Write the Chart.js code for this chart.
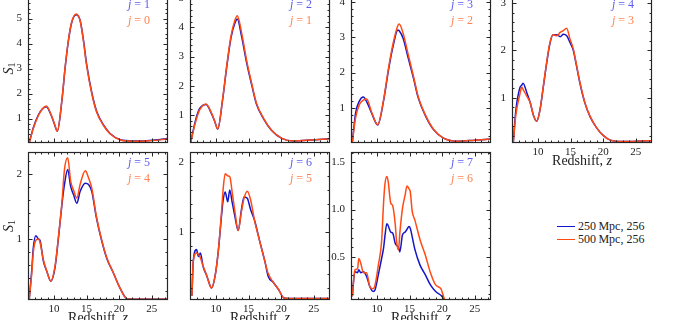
<!DOCTYPE html>
<html><head><meta charset="utf-8">
<script src="https://cdn.jsdelivr.net/npm/chart.js@4/dist/chart.umd.min.js"></script>
<style>
html,body{margin:0;padding:0;background:#fff;width:673px;height:320px;overflow:hidden;position:relative;}
canvas{position:absolute;}
#legend{position:absolute;left:557px;top:220px;font-family:"Liberation Serif",serif;font-size:12px;color:#222;}
.row{display:flex;align-items:center;height:13px;white-space:nowrap;}
.sw{width:18px;height:0;border-top:1.6px solid;margin-right:3px;}
</style></head><body>
<div id="legend">
 <div class="row"><span class="sw" style="border-color:#1515c8"></span>250&#8201;Mpc, 256</div>
 <div class="row"><span class="sw" style="border-color:#ff4a14"></span>500&#8201;Mpc, 256</div>
</div>
<script>
// ---- data ----
const xMajor = [10, 15, 20, 25];

const z1 = [6.2, 6.8, 7.6, 8.2, 8.8, 9.6, 10.1, 10.5, 11.2, 11.7, 12.2, 12.7, 13.4, 14.0, 14.5, 15.0, 15.8, 16.55, 17.6, 18.6, 20.1, 22.2, 24.7, 27.5];
const o1 = [0.03, 0.59, 1.12, 1.38, 1.50, 1.12, 0.76, 0.49, 1.72, 3.05, 4.12, 4.85, 5.18, 4.92, 4.12, 3.12, 1.99, 1.25, 0.72, 0.39, 0.15, 0.09, 0.11, 0.18];
const b1 = [0.03, 0.62, 1.15, 1.38, 1.47, 1.10, 0.74, 0.49, 1.70, 3.02, 4.10, 4.83, 5.15, 4.93, 4.17, 3.18, 2.03, 1.28, 0.74, 0.40, 0.16, 0.10, 0.12, 0.20];

const z2 = [6.1, 6.77, 7.44, 8.0, 8.46, 9.3, 9.8, 10.26, 11.0, 11.63, 12.3, 12.9, 13.27, 13.9, 14.7, 15.5, 16.2, 17.3, 18.5, 20.1, 21.9, 24.5, 27.3];
const o2 = [0.04, 0.68, 1.15, 1.32, 1.37, 1.06, 0.78, 0.51, 1.52, 2.67, 3.71, 4.25, 4.40, 3.85, 2.86, 2.05, 1.40, 0.88, 0.48, 0.19, 0.10, 0.13, 0.18];
const b2 = [0.04, 0.74, 1.20, 1.33, 1.35, 1.04, 0.77, 0.51, 1.50, 2.62, 3.65, 4.15, 4.29, 3.72, 2.78, 2.00, 1.37, 0.86, 0.47, 0.19, 0.10, 0.13, 0.18];

const z3 = [6.2, 6.7, 7.3, 7.9, 8.4, 9.2, 10.1, 11.0, 11.8, 12.5, 13.2, 13.4, 14.0, 14.8, 15.6, 16.3, 17.4, 18.7, 20.2, 22.5, 25.0, 27.4];
const o3 = [0.02, 0.72, 1.10, 1.22, 1.25, 0.86, 0.53, 1.23, 2.17, 2.85, 3.33, 3.37, 3.11, 2.50, 1.89, 1.33, 0.81, 0.39, 0.15, 0.06, 0.09, 0.12];
const b3 = [0.02, 0.85, 1.20, 1.31, 1.18, 0.84, 0.52, 1.20, 2.12, 2.78, 3.20, 3.18, 2.97, 2.40, 1.84, 1.30, 0.79, 0.38, 0.15, 0.06, 0.09, 0.12];

const z4 = [6.2, 6.6, 7.2, 7.5, 7.7, 8.3, 8.8, 9.3, 9.8, 10.3, 10.8, 11.3, 11.8, 12.3, 12.9, 13.4, 13.9, 14.4, 14.9, 15.4, 15.9, 16.4, 17.2, 18.0, 19.0, 20.0, 21.1, 23.1, 25.7, 27.4];
const o4 = [0.07, 0.65, 1.07, 1.23, 1.18, 1.03, 0.90, 0.63, 0.51, 0.75, 1.24, 1.73, 2.15, 2.33, 2.31, 2.38, 2.42, 2.47, 2.24, 2.04, 1.70, 1.35, 0.90, 0.61, 0.37, 0.21, 0.11, 0.08, 0.09, 0.10];
const b4 = [0.07, 0.75, 1.21, 1.27, 1.31, 1.10, 0.90, 0.63, 0.51, 0.75, 1.22, 1.71, 2.13, 2.33, 2.33, 2.29, 2.34, 2.31, 2.17, 2.01, 1.68, 1.33, 0.89, 0.60, 0.37, 0.21, 0.11, 0.08, 0.09, 0.10];

const z5 = [6.2, 6.6, 6.8, 7.2, 7.6, 7.84, 8.36, 8.9, 9.5, 10.15, 10.66, 11.2, 11.6, 12.1, 12.55, 13.0, 13.5, 14.0, 14.8, 15.3, 15.8, 16.5, 17.3, 18.1, 19.1, 20.1, 21.2, 23.2, 27.5];
const o5 = [0.08, 0.50, 0.78, 0.98, 1.00, 0.95, 0.68, 0.50, 0.35, 0.58, 1.02, 1.55, 2.07, 2.25, 1.89, 1.75, 1.63, 1.84, 2.05, 1.94, 1.78, 1.35, 0.99, 0.71, 0.48, 0.25, 0.08, 0.07, 0.07];
const b5 = [0.08, 0.55, 0.85, 1.05, 1.00, 0.98, 0.66, 0.50, 0.35, 0.56, 1.00, 1.52, 1.84, 2.07, 1.81, 1.68, 1.55, 1.73, 1.86, 1.84, 1.73, 1.33, 0.98, 0.70, 0.48, 0.25, 0.08, 0.07, 0.07];

const z6 = [6.3, 6.5, 7.0, 7.3, 7.6, 8.0, 8.6, 9.1, 9.3, 9.85, 10.35, 10.9, 11.1, 11.4, 11.8, 12.1, 12.5, 12.9, 13.4, 13.9, 14.3, 14.8, 15.3, 15.9, 16.7, 17.5, 18.0, 18.8, 19.6, 20.4, 21.9, 27.3];
const o6 = [0.09, 0.58, 0.70, 0.68, 0.63, 0.52, 0.37, 0.23, 0.20, 0.37, 0.73, 1.36, 1.62, 1.83, 1.80, 1.79, 1.55, 1.29, 1.02, 1.29, 1.48, 1.58, 1.46, 1.17, 0.87, 0.58, 0.41, 0.28, 0.18, 0.06, 0.05, 0.05];
const b6 = [0.09, 0.58, 0.75, 0.65, 0.70, 0.51, 0.37, 0.23, 0.20, 0.37, 0.73, 1.29, 1.46, 1.57, 1.43, 1.60, 1.41, 1.22, 1.02, 1.32, 1.50, 1.48, 1.32, 1.17, 0.87, 0.58, 0.37, 0.28, 0.18, 0.06, 0.05, 0.05];

const z7 = [6.2, 6.6, 7.0, 7.2, 7.5, 7.9, 8.4, 8.9, 9.4, 9.7, 10.2, 10.7, 11.0, 11.2, 11.5, 11.7, 12.1, 12.4, 12.8, 13.0, 13.3, 13.5, 13.9, 14.3, 14.6, 14.9, 15.1, 15.4, 15.8, 16.6, 17.4, 18.2, 19.0, 19.8, 20.5, 27.5];
const b7 = [0.08, 0.34, 0.33, 0.36, 0.33, 0.34, 0.29, 0.18, 0.13, 0.15, 0.31, 0.48, 0.59, 0.71, 0.85, 0.83, 0.76, 0.75, 0.64, 0.62, 0.60, 0.55, 0.73, 0.76, 0.79, 0.82, 0.80, 0.71, 0.58, 0.41, 0.31, 0.20, 0.13, 0.09, 0.04, 0.04];
const o7 = [0.08, 0.36, 0.37, 0.48, 0.43, 0.33, 0.33, 0.18, 0.16, 0.20, 0.41, 0.66, 1.07, 1.26, 1.35, 1.30, 1.07, 1.04, 0.84, 0.66, 0.57, 0.75, 1.01, 1.15, 1.25, 1.22, 1.19, 0.98, 0.89, 0.68, 0.52, 0.33, 0.20, 0.16, 0.04, 0.04];

const yTicks1 = [1, 2, 3, 4, 5];
const yTicks2 = [1, 2, 3, 4, 5];
const yTicks3 = [1, 2, 3, 4];
const yTicks4 = [1, 2, 3];
const yTicks5 = [1, 2];
const yTicks6 = [1, 2];
const yTicks7 = [0.5, 1.0, 1.5];

const legendLabels = ['250 Mpc, 256', '500 Mpc, 256'];

// ---- styling / layout ----
const BLUE = '#1515c8', ORANGE = '#ff4a14';
const BLUE_T = '#5c5cf0', ORANGE_T = '#ff8352';
const colLeft = [28, 190, 351, 512];
const rowTop = [-6, 152];
const rowH = [149, 148];
const SERIF = '"Liberation Serif", "DejaVu Serif", serif';

const panels = [
  {z:z1, b:b1, o:o1, jb:1, jo:0, ymin:0.02, ymax:5.98, yt:yTicks1, minor:0.2, col:0, row:0, xl:false},
  {z:z2, b:b2, o:o2, jb:2, jo:1, ymin:0.03, ymax:5.15, yt:yTicks2, minor:0.2, col:1, row:0, xl:false},
  {z:z3, b:b3, o:o3, jb:3, jo:2, ymin:0.01, ymax:4.22, yt:yTicks3, minor:0.2, col:2, row:0, xl:false},
  {z:z4, b:b4, o:o4, jb:4, jo:3, ymin:0.05, ymax:3.19, yt:yTicks4, minor:0.2, col:3, row:0, xl:true},
  {z:z5, b:b5, o:o5, jb:5, jo:4, ymin:0.06, ymax:2.34, yt:yTicks5, minor:0.2, col:0, row:1, xl:true},
  {z:z6, b:b6, o:o6, jb:6, jo:5, ymin:0.03, ymax:2.14, yt:yTicks6, minor:0.2, col:1, row:1, xl:true},
  {z:z7, b:b7, o:o7, jb:7, jo:6, ymin:0.04, ymax:1.61, yt:yTicks7, minor:0.1, col:2, row:1, xl:true, fmt:1}
];

const frameTicks = {
  id: 'frameTicks',
  afterDraw(chart, args, opts) {
    const p = opts.p;
    const {ctx, chartArea: a} = chart;
    const x = chart.scales.x, y = chart.scales.y;
    ctx.save();
    ctx.strokeStyle = '#262626';
    ctx.lineWidth = 1;
    const L = Math.round(a.left) + 0.5, R = Math.round(a.right) - 0.5;
    const T = Math.round(a.top) + 0.5, B = Math.round(a.bottom) - 0.5;
    ctx.beginPath();
    for (let v = 7; v <= 27; v++) {
      const px = Math.round(x.getPixelForValue(v)) + 0.5;
      const len = xMajor.includes(v) ? 4 : 2;
      ctx.moveTo(px, B); ctx.lineTo(px, B - len);
      ctx.moveTo(px, T); ctx.lineTo(px, T + len);
    }
    const st = p.minor;
    for (let k = Math.ceil(p.ymin / st - 1e-9); k * st <= p.ymax + 1e-9; k++) {
      const v = k * st;
      const py = Math.round(y.getPixelForValue(v)) + 0.5;
      const len = p.yt.some(m => Math.abs(m - v) < 1e-6) ? 4 : 2;
      ctx.moveTo(L, py); ctx.lineTo(L + len, py);
      ctx.moveTo(R, py); ctx.lineTo(R - len, py);
    }
    ctx.stroke();
    ctx.lineWidth = 1.2;
    ctx.strokeRect(L, T, R - L, B - T);

    // j annotations
    const drawJ = (txt, color, cy) => {
      ctx.fillStyle = color;
      ctx.textBaseline = 'middle';
      ctx.font = '12px ' + SERIF;
      const rest = ' = ' + txt;
      const wr = ctx.measureText(rest).width;
      ctx.font = 'italic 12px ' + SERIF;
      const wj = ctx.measureText('j').width;
      const xr = a.right - 18;
      ctx.textAlign = 'left';
      ctx.fillText('j', xr - wr - wj, cy);
      ctx.font = '12px ' + SERIF;
      ctx.fillText(rest, xr - wr, cy);
    };
    drawJ(String(p.jb), BLUE_T, a.top + 11);
    drawJ(String(p.jo), ORANGE_T, a.top + 27);

    ctx.fillStyle = '#222';
    // y-axis title
    if (p.col === 0) {
      ctx.save();
      ctx.translate(9, (a.top + a.bottom) / 2);
      ctx.rotate(-Math.PI / 2);
      ctx.textBaseline = 'middle';
      ctx.textAlign = 'left';
      ctx.font = 'italic 14px ' + SERIF;
      const ws = ctx.measureText('S').width;
      ctx.font = '10px ' + SERIF;
      const w1 = ctx.measureText('1').width;
      const x0 = -(ws + w1) / 2;
      ctx.font = 'italic 14px ' + SERIF;
      ctx.fillText('S', x0, 0);
      ctx.font = '10px ' + SERIF;
      ctx.fillText('1', x0 + ws, 3);
      ctx.restore();
    }
    // x-axis title
    if (p.xl) {
      ctx.textBaseline = 'middle';
      ctx.textAlign = 'left';
      ctx.font = '14px ' + SERIF;
      const t1 = 'Redshift, ';
      const w1 = ctx.measureText(t1).width;
      ctx.font = 'italic 14px ' + SERIF;
      const w2 = ctx.measureText('z').width;
      const cx = (a.left + a.right) / 2;
      const x0 = cx - (w1 + w2) / 2;
      const cy = a.bottom + 18;
      ctx.font = '14px ' + SERIF;
      ctx.fillText(t1, x0, cy);
      ctx.font = 'italic 14px ' + SERIF;
      ctx.fillText('z', x0 + w1, cy);
    }
    ctx.restore();
  }
};

panels.forEach(p => {
  const h = rowH[p.row];
  const W = 176, H = 4 + h + 32;
  const cv = document.createElement('canvas');
  cv.width = W; cv.height = H;
  cv.style.width = W + 'px'; cv.style.height = H + 'px';
  cv.style.left = (colLeft[p.col] - 28) + 'px';
  cv.style.top = (rowTop[p.row] - 4) + 'px';
  document.body.appendChild(cv);
  const ds = (vals, color) => ({
    data: p.z.map((z, i) => ({x: z, y: vals[i]})),
    borderColor: color, borderWidth: 1.5, pointRadius: 0,
    cubicInterpolationMode: 'monotone', fill: false
  });
  new Chart(cv, {
    type: 'line',
    data: {datasets: [ds(p.o, ORANGE), ds(p.b, BLUE)]},
    options: {
      responsive: false, animation: false, devicePixelRatio: 1,
      layout: {autoPadding: false, padding: {top: 4, right: 8, left: 0, bottom: 0}},
      plugins: {legend: {display: false}, tooltip: {enabled: false}, frameTicks: {p}},
      scales: {
        x: {
          type: 'linear', min: 6, max: 27.5,
          grid: {display: false, drawTicks: false}, border: {display: false},
          afterBuildTicks: s => { s.ticks = xMajor.map(v => ({value: v})); },
          afterFit: s => { s.height = 32; s.paddingLeft = 0; s.paddingRight = 0; },
          ticks: {display: p.xl, padding: 3, maxRotation: 0, autoSkip: false,
                  font: {family: SERIF, size: 11}, color: '#222', callback: v => String(v)}
        },
        y: {
          type: 'linear', min: p.ymin, max: p.ymax,
          grid: {display: false, drawTicks: false}, border: {display: false},
          afterBuildTicks: s => { s.ticks = p.yt.map(v => ({value: v})); },
          afterFit: s => { s.width = 28; s.paddingTop = 0; s.paddingBottom = 0; },
          ticks: {padding: 6, autoSkip: false, font: {family: SERIF, size: 11}, color: '#222',
                  callback: v => p.fmt ? Number(v).toFixed(1) : String(v)}
        }
      }
    },
    plugins: [frameTicks]
  });
});
</script>
</body></html>
